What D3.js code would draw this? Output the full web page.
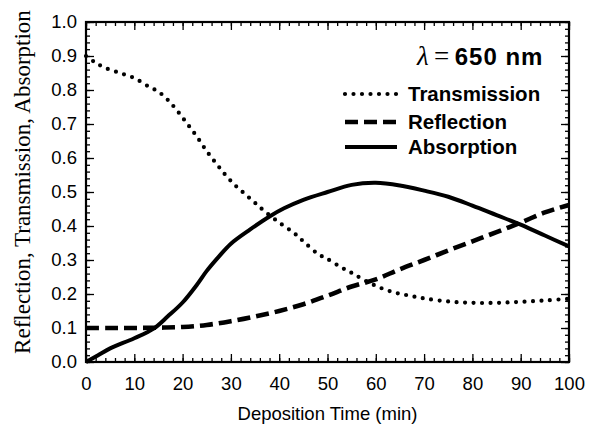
<!DOCTYPE html>
<html>
<head>
<meta charset="utf-8">
<script src="https://cdn.jsdelivr.net/npm/d3@7"></script>
<style>
  body { margin: 0; background: #fff; }
  text { fill: #000; }
  .legend-label { font-family: "Liberation Sans", Arial, sans-serif; font-size: 20.5px; font-weight: bold; }
</style>
</head>
<body>
<div id="chart"></div>
<script>
// values
var transX = [0, 2, 4, 7, 10, 13, 15, 17, 19, 21, 23, 25, 27, 29, 31, 33, 35, 37, 40, 43, 45, 48, 50, 53, 55, 58, 61, 64, 67, 70, 75, 80, 85, 90, 95, 100];
var transY = [0.90, 0.88, 0.865, 0.85, 0.835, 0.81, 0.795, 0.77, 0.737, 0.70, 0.662, 0.62, 0.583, 0.548, 0.518, 0.493, 0.468, 0.443, 0.41, 0.38, 0.355, 0.318, 0.303, 0.277, 0.262, 0.238, 0.218, 0.204, 0.195, 0.187, 0.178, 0.174, 0.174, 0.177, 0.181, 0.186];

var reflX = [0, 5, 10, 15, 20, 25, 30, 35, 40, 45, 50, 55, 60, 65, 70, 75, 80, 85, 90, 95, 100];
var reflY = [0.10, 0.10, 0.10, 0.101, 0.103, 0.109, 0.12, 0.134, 0.15, 0.17, 0.195, 0.222, 0.243, 0.273, 0.30, 0.328, 0.355, 0.382, 0.41, 0.44, 0.462];

var absX = [0, 2.5, 5, 10, 14, 17, 20, 23, 25, 27.5, 30, 34, 38, 41, 45, 50, 55, 60, 65, 70, 75, 80, 85, 90, 95, 100];
var absY = [0, 0.02, 0.04, 0.07, 0.098, 0.135, 0.175, 0.228, 0.268, 0.31, 0.348, 0.39, 0.428, 0.452, 0.477, 0.50, 0.521, 0.527, 0.519, 0.504, 0.486, 0.46, 0.432, 0.404, 0.372, 0.34];

var seriesNames = ["Transmission", "Reflection", "Absorption"];
var xTicks = [0, 10, 20, 30, 40, 50, 60, 70, 80, 90, 100];
var yTicks = [0, 0.1, 0.2, 0.3, 0.4, 0.5, 0.6, 0.7, 0.8, 0.9, 1.0];

var zip = function(xs, ys) {
	return xs.map(function(x, i) { return {x: x, y: ys[i]}; });
};

var margin = {top: 22, right: 20, bottom: 72, left: 86},
		width = 589 - margin.left - margin.right,
		height = 434 - margin.top - margin.bottom;

var x = d3.scaleLinear().domain([0, 100]).range([0, width]);
var y = d3.scaleLinear().domain([0, 1]).range([height, 0]);

var line = d3.line()
    .curve(d3.curveCatmullRom)
    .x(function(d) { return x(d.x); })
    .y(function(d) { return y(d.y); });

var svg = d3.select("#chart").append("svg")
    .attr("width", 589)
    .attr("height", 434)
  .append("g")
    .attr("transform", "translate(" + margin.left + "," + margin.top + ")");

// minor ticks, inward on all four sides
var xMinor = d3.range(0, 101, 2), yMinor = d3.range(0, 1.001, 0.02);
function inwardAxis(axisFn, scale, ticks, size, fmt) {
	return axisFn(scale).tickValues(ticks).tickSizeInner(-size).tickSizeOuter(0).tickFormat(fmt || "");
}

svg.append("g").attr("transform", "translate(0," + height + ")")
    .call(inwardAxis(d3.axisBottom, x, xMinor, 4));
svg.append("g").call(inwardAxis(d3.axisTop, x, xMinor, 4));
svg.append("g").call(inwardAxis(d3.axisLeft, y, yMinor, 4));
svg.append("g").attr("transform", "translate(" + width + ",0)")
    .call(inwardAxis(d3.axisRight, y, yMinor, 4));

var xAxis = svg.append("g").attr("transform", "translate(0," + height + ")")
    .call(d3.axisBottom(x).tickValues(xTicks).tickSizeInner(-8).tickSizeOuter(0).tickPadding(15));
svg.append("g").call(inwardAxis(d3.axisTop, x, xTicks, 8));
var yAxis = svg.append("g")
    .call(d3.axisLeft(y).tickValues(yTicks).tickSizeInner(-8).tickSizeOuter(0).tickPadding(9).tickFormat(d3.format(".1f")));
svg.append("g").attr("transform", "translate(" + width + ",0)")
    .call(inwardAxis(d3.axisRight, y, yTicks, 8));

svg.selectAll(".domain").remove();
svg.selectAll(".tick line").attr("stroke", "#000").attr("stroke-width", 1.3);
svg.selectAll(".tick text").style("font-size", "18.5px")
    .style("font-family", "'Liberation Sans', Arial, sans-serif").attr("fill", "#000");
xAxis.selectAll(".tick text").attr("dy", "0.71em");

svg.append("rect")
    .attr("width", width).attr("height", height)
    .attr("fill", "none").attr("stroke", "#000").attr("stroke-width", 2.2);

// series
var styles = [
	{dash: "0,8.5", w: 4.2, cap: "round"},
	{dash: "13,6", w: 4.6, cap: "butt"},
	{dash: null, w: 4, cap: "butt"}
];
var data = [zip(transX, transY), zip(reflX, reflY), zip(absX, absY)];

data.forEach(function(d, i) {
	svg.append("path")
	    .datum(d)
	    .attr("fill", "none")
	    .attr("stroke", "#000")
	    .attr("stroke-width", styles[i].w)
	    .attr("stroke-linecap", styles[i].cap)
	    .attr("stroke-dasharray", styles[i].dash)
	    .attr("d", line);
});

// legend
var legendRows = [94, 122, 147];
var legend = svg.append("g").attr("transform", "translate(" + (345 - margin.left) + "," + (-margin.top) + ")");
seriesNames.forEach(function(name, i) {
	var g = legend.append("g").attr("transform", "translate(0," + legendRows[i] + ")");
	g.append("line")
	    .attr("x1", 0).attr("x2", 52).attr("y1", 0).attr("y2", 0)
	    .attr("stroke", "#000")
	    .attr("stroke-width", styles[i].w)
	    .attr("stroke-linecap", styles[i].cap)
	    .attr("stroke-dasharray", styles[i].dash);
	g.append("text")
	    .attr("class", "legend-label")
	    .attr("x", 63).attr("y", 0).attr("dy", "0.36em")
	    .text(name);
});

// wavelength note
var note = svg.append("text")
    .attr("x", 417 - margin.left).attr("y", 65 - margin.top);
note.append("tspan")
    .style("font-family", "'Liberation Serif', 'Times New Roman', serif")
    .style("font-style", "italic").style("font-size", "27px")
    .text("λ");
note.append("tspan")
    .style("font-family", "'Liberation Serif', 'Times New Roman', serif")
    .style("font-size", "27px")
    .text("\u2009=\u2009");
note.append("tspan")
    .style("font-family", "'Liberation Sans', Arial, sans-serif")
    .style("font-weight", "bold").style("font-size", "24px")
    .style("letter-spacing", "1px")
    .text("650 nm");

// axis titles
svg.append("text")
    .attr("x", width / 2).attr("y", height + 58)
    .attr("text-anchor", "middle")
    .style("font-family", "'Liberation Sans', Arial, sans-serif")
    .style("font-size", "18.5px")
    .text("Deposition Time (min)");

svg.append("text")
    .attr("transform", "rotate(-90)")
    .attr("x", -(182 - margin.top)).attr("y", -margin.left + 30)
    .attr("text-anchor", "middle")
    .style("font-family", "'Liberation Serif', 'Times New Roman', serif")
    .style("font-size", "23px")
    .text("Reflection, Transmission, Absorption");
</script>
</body>
</html>
